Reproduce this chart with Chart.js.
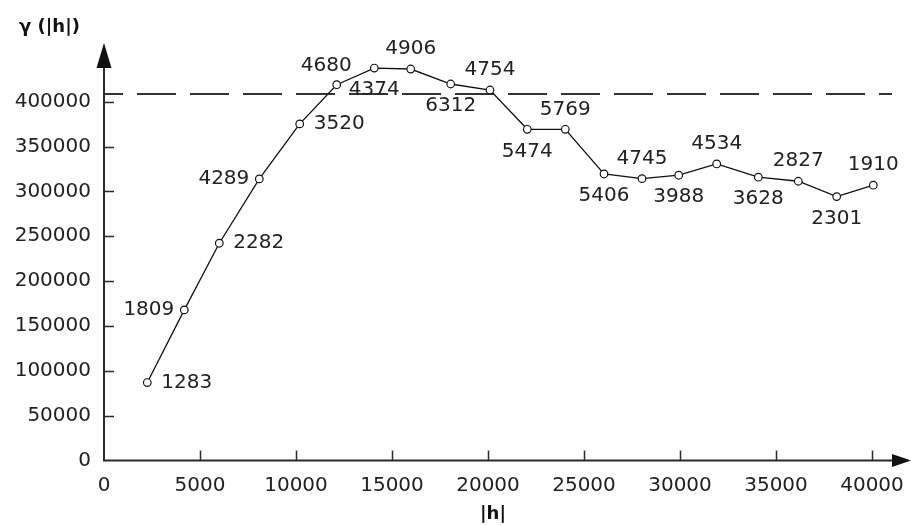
<!DOCTYPE html>
<html>
<head>
<meta charset="utf-8">
<script src="https://cdn.jsdelivr.net/npm/chart.js@4.4.0/dist/chart.umd.min.js"></script>
<style>
html,body{margin:0;padding:0;background:#fff;}
#wrap{width:911px;height:526px;position:relative;}
</style>
</head>
<body>
<div id="wrap"><canvas id="c" width="911" height="526"></canvas></div>
<script>
// ---- data ----
const lagDistance = [2255, 4182, 6005, 8089, 10193, 12120, 14078, 15974, 18057, 20104,
                     22047, 24026, 26042, 28021, 29932, 31911, 34078, 36161, 38161, 40068];
const semivariance = [86900, 167900, 242200, 313900, 375200, 418900, 437500, 436400, 419700, 413000,
                      369200, 369200, 319400, 314200, 318000, 330600, 315800, 311300, 294200, 306900];
const pairCounts = ['1283', '1809', '2282', '4289', '3520', '4680', '4374', '4906', '6312', '4754',
                    '5474', '5769', '5406', '4745', '3988', '4534', '3628', '2827', '2301', '1910'];
const sillValue = 408600;
const xTickValues = [0, 5000, 10000, 15000, 20000, 25000, 30000, 35000, 40000];
const yTickValues = [0, 50000, 100000, 150000, 200000, 250000, 300000, 350000, 400000];
const yAxisTitle = 'γ (|h|)';
const xAxisTitle = '|h|';

// label placement around each point (r = right, l = left, a = above, b = below, al = above-left)
const labelPlacement = ['r', 'l', 'r', 'l', 'r', 'al', 'b', 'a', 'b', 'a',
                        'b', 'a', 'b', 'a', 'b', 'a', 'b', 'a', 'b', 'a'];

const INK = '#222';
const FONT = 'DejaVu Sans';

const decorPlugin = {
  id: 'decor',
  beforeDatasetsDraw(chart) {
    const ctx = chart.ctx, ys = chart.scales.y, ca = chart.chartArea;
    // dashed sill line
    const y = ys.getPixelForValue(sillValue);
    ctx.save();
    ctx.strokeStyle = '#333';
    ctx.lineWidth = 2;
    ctx.setLineDash([39, 14]);
    ctx.lineDashOffset = 20;
    ctx.beginPath();
    ctx.moveTo(ca.left, y);
    ctx.lineTo(ca.right - 19, y);
    ctx.stroke();
    ctx.restore();
  },
  afterDatasetsDraw(chart) {
    const ctx = chart.ctx, xs = chart.scales.x, ys = chart.scales.y, ca = chart.chartArea;
    ctx.save();
    // axes
    ctx.strokeStyle = '#2a2a2a';
    ctx.fillStyle = '#111';
    ctx.lineWidth = 2;
    const x0 = ca.left, y0 = ca.bottom;
    ctx.beginPath();
    ctx.moveTo(x0, y0);
    ctx.lineTo(x0, 62);
    ctx.moveTo(x0 - 1, y0);
    ctx.lineTo(ca.right - 14, y0);
    ctx.stroke();
    // arrows
    ctx.beginPath();
    ctx.moveTo(x0, 43);
    ctx.lineTo(x0 - 7.5, 68);
    ctx.lineTo(x0 + 7.5, 68);
    ctx.closePath();
    ctx.fill();
    ctx.beginPath();
    ctx.moveTo(ca.right, y0);
    ctx.lineTo(ca.right - 19, y0 - 6.5);
    ctx.lineTo(ca.right - 19, y0 + 6.5);
    ctx.closePath();
    ctx.fill();
    // tick marks (inside)
    ctx.lineWidth = 1.5;
    ctx.beginPath();
    yTickValues.forEach(v => {
      if (v === 0) return;
      const py = Math.round(ys.getPixelForValue(v)) + 0.5;
      ctx.moveTo(x0, py); ctx.lineTo(x0 + 10, py);
    });
    xTickValues.forEach(v => {
      if (v === 0) return;
      const px = Math.round(xs.getPixelForValue(v)) + 0.5;
      ctx.moveTo(px, y0); ctx.lineTo(px, y0 - 10);
    });
    ctx.stroke();

    // point labels
    ctx.fillStyle = INK;
    ctx.font = '20px "' + FONT + '"';
    ctx.textBaseline = 'middle';
    const meta = chart.getDatasetMeta(0);
    meta.data.forEach((pt, i) => {
      const p = labelPlacement[i];
      let tx = pt.x, ty = pt.y;
      if (p === 'r') { ctx.textAlign = 'left'; tx += 14; }
      else if (p === 'l') { ctx.textAlign = 'right'; tx -= 10; }
      else if (p === 'a') { ctx.textAlign = 'center'; ty -= 20; }
      else if (p === 'b') { ctx.textAlign = 'center'; ty += 22; }
      else if (p === 'al') { ctx.textAlign = 'right'; tx += 15; ty -= 19; }
      ctx.fillText(pairCounts[i], tx, ty);
    });

    // axis titles
    ctx.font = 'bold 18px "' + FONT + '"';
    ctx.fillStyle = '#111';
    ctx.textAlign = 'left';
    ctx.fillText(yAxisTitle, 19, 27);
    ctx.textAlign = 'center';
    ctx.fillText(xAxisTitle, 493, 514);
    ctx.restore();
  }
};

const plain = v => String(v);

new Chart(document.getElementById('c'), {
  type: 'line',
  data: {
    datasets: [{
      data: lagDistance.map((x, i) => ({ x: x, y: semivariance[i] })),
      borderColor: '#111',
      borderWidth: 1.3,
      tension: 0,
      fill: false,
      pointRadius: 3.8,
      pointBorderWidth: 1.2,
      pointBorderColor: '#111',
      pointBackgroundColor: '#fff'
    }]
  },
  options: {
    responsive: false,
    animation: false,
    devicePixelRatio: 1,
    layout: { autoPadding: false, padding: { top: 57, left: 0, right: 0, bottom: 0 } },
    plugins: { legend: { display: false }, tooltip: { enabled: false } },
    scales: {
      x: {
        type: 'linear',
        min: 0,
        max: 42031,
        afterBuildTicks: s => { s.ticks = xTickValues.map(v => ({ value: v })); },
        afterFit: s => { s.height = 65.5; s.paddingLeft = 0; s.paddingRight = 0; },
        grid: { display: false, drawTicks: false },
        border: { display: false },
        ticks: { color: INK, font: { family: FONT, size: 20 }, padding: 13, maxRotation: 0, autoSkip: false, callback: plain }
      },
      y: {
        type: 'linear',
        min: 0,
        max: 449800,
        afterBuildTicks: s => { s.ticks = yTickValues.map(v => ({ value: v })); },
        afterFit: s => { s.width = 104; s.paddingTop = 0; s.paddingBottom = 0; },
        grid: { display: false, drawTicks: false },
        border: { display: false },
        ticks: { color: INK, font: { family: FONT, size: 20 }, padding: 13, callback: plain }
      }
    }
  },
  plugins: [decorPlugin]
});
</script>
</body>
</html>
